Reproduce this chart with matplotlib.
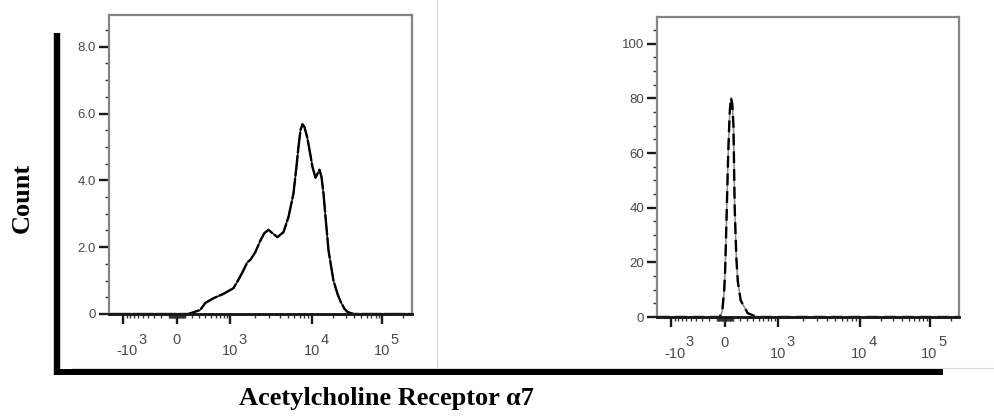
import numpy as np
import matplotlib
matplotlib.use("Agg")
import matplotlib.pyplot as plt
import matplotlib.transforms as mtransforms
from matplotlib.lines import Line2D
from matplotlib.ticker import FixedLocator, FixedFormatter, NullFormatter

plt.rcParams['font.family'] = ['Liberation Sans', 'DejaVu Sans']

# ---------------- data ----------------
left_x = [-1490, 142, 240, 313, 396, 550, 788, 1088, 1253, 1443, 1615, 1757, 2020,
          2330, 2606, 2920, 3265, 3760, 4460, 5130, 5900, 6420, 6800, 7190, 7600,
          8050, 8760, 9530, 10100, 11150, 11900, 12700, 13580, 14500, 15490, 17100,
          20100, 22970, 25400, 28950, 31900, 38900, 262144]
left_y = [0, 0, 0.07, 0.12, 0.33, 0.47, 0.6, 0.77, 1.02, 1.3, 1.55, 1.62, 1.85,
          2.2, 2.42, 2.52, 2.42, 2.3, 2.45, 2.9, 3.6, 4.4, 5.0, 5.5, 5.68,
          5.6, 5.25, 4.75, 4.4, 4.08, 4.2, 4.32, 4.1, 3.6, 2.9, 1.9,
          1.0, 0.6, 0.37, 0.15, 0.06, 0.0, 0]

right_x = [-1490, -62, -31, -6, 6, 25, 43, 62, 78, 94, 109, 125, 146, 166, 206,
           309, 428, 545, 262144]
right_y = [0, 0, 2, 10, 18, 39, 60, 75, 80.3, 78, 70, 40, 22, 13, 6,
           1.4, 0.3, 0, 0]

x_major = [-1000, 0, 1000, 10000, 100000]
x_label_base = ['-10', '0', '10', '10', '10']
x_label_exp = ['3', '', '3', '4', '5']
x_minor = ([-v for v in range(100, 1000, 100)] + [-v for v in range(10, 100, 10)]
           + list(range(10, 100, 10)) + list(range(100, 1000, 100))
           + list(range(2000, 10000, 1000)) + list(range(20000, 100000, 10000))
           + [200000])
x_limits = (-1490, 262144)

left_yticks = [0, 2, 4, 6, 8]
left_ylabels = ['0', '2.0', '4.0', '6.0', '8.0']
left_yminor = list(np.arange(0.5, 9.0, 0.5))
left_ylim = (0, 8.95)

right_yticks = [0, 20, 40, 60, 80, 100]
right_ylabels = ['0', '20', '40', '60', '80', '100']
right_yminor = list(range(5, 110, 5))
right_ylim = (0, 110)

y_title = 'Count'
x_title = 'Acetylcholine Receptor α7'

# ---------------- biexponential-like scale ----------------
A = 400.0
S = np.arcsinh(1000.0 / A)
D1 = 81.7 / 53.3
D2 = 70.0 / 53.3


def fwd(x):
    x = np.asarray(x, dtype=float)
    ax_ = np.abs(x)
    s = np.sign(x)
    with np.errstate(all='ignore'):
        inner = np.arcsinh(ax_ / A) / S
        mid = 1 + np.log10(ax_ / 1e3) * D1
        hi = 1 + D1 + np.log10(ax_ / 1e4) * D2
        u = np.where(ax_ <= 1e3, inner, np.where(ax_ <= 1e4, mid, hi))
    return s * u


def inv(u):
    u = np.asarray(u, dtype=float)
    au = np.abs(u)
    s = np.sign(u)
    with np.errstate(all='ignore'):
        inner = A * np.sinh(au * S)
        mid = 1e3 * 10 ** ((au - 1) / D1)
        hi = 1e4 * 10 ** ((au - 1 - D1) / D2)
        x = np.where(au <= 1, inner, np.where(au <= 1 + D1, mid, hi))
    return s * x


W, H = 994, 417
fig = plt.figure(figsize=(W / 100, H / 100), dpi=100)
LABEL_COLOR = '#4a4a4a'
XLAB_SIZE = 10.5


def make_axes(rect, xs, ys, yt, ylab, ymin, ylim, dash, under_color):
    ax = fig.add_axes(rect)
    ax.set_xscale('function', functions=(fwd, inv))
    ax.plot(xs, ys, color=under_color, lw=1.1, zorder=2)
    ax.plot(xs, ys, color='black', lw=1.7, dashes=dash, zorder=2.1)
    ax.set_xlim(*x_limits)
    ax.set_ylim(*ylim)
    ax.xaxis.set_major_locator(FixedLocator(x_major))
    ax.xaxis.set_major_formatter(NullFormatter())
    ax.xaxis.set_minor_locator(FixedLocator(x_minor))
    ax.yaxis.set_major_locator(FixedLocator(yt))
    ax.yaxis.set_major_formatter(FixedFormatter(ylab))
    ax.yaxis.set_minor_locator(FixedLocator(ymin))
    for sp in ['left', 'top', 'right']:
        ax.spines[sp].set_color('#858585')
        ax.spines[sp].set_linewidth(1.6)
    ax.spines['bottom'].set_color('#1a1a1a')
    ax.spines['bottom'].set_linewidth(2.1)
    for sp in ax.spines.values():
        sp.set_zorder(3)
    ax.tick_params(which='major', direction='out', length=7, width=1.7,
                   color='#1a1a1a', labelsize=9.5, labelcolor=LABEL_COLOR)
    ax.tick_params(which='minor', direction='out', length=3.2, width=1.0,
                   color='#333333')
    ax.tick_params(axis='y', which='major', pad=2.5)
    ax.patch.set_alpha(0)

    # x tick labels with full-size raised exponents (FlowJo style)
    base_tr = mtransforms.blended_transform_factory(ax.transData, ax.transAxes)
    for v, b, e in zip(x_major, x_label_base, x_label_exp):
        if e == '':
            tr = mtransforms.offset_copy(base_tr, fig=fig, x=0, y=-19, units='dots')
            ax.text(v, 0, b, transform=tr, ha='center', va='top', fontsize=XLAB_SIZE,
                    color=LABEL_COLOR)
            continue
        jx = 8 + (6 if b.startswith('-') else 0)
        tr_b = mtransforms.offset_copy(base_tr, fig=fig, x=jx, y=-30, units='dots')
        ax.text(v, 0, b, transform=tr_b, ha='right', va='top', fontsize=XLAB_SIZE,
                color=LABEL_COLOR)
        tr_e = mtransforms.offset_copy(base_tr, fig=fig, x=jx + 0.5, y=-18.5, units='dots')
        ax.text(v, 0, e, transform=tr_e, ha='left', va='top', fontsize=XLAB_SIZE,
                color=LABEL_COLOR)
    return ax


make_axes([109.3 / W, 1 - 314 / H, 302.4 / W, 299 / H], left_x, left_y,
          left_yticks, left_ylabels, left_yminor, left_ylim, (9, 0.8), '#222222')
make_axes([657.3 / W, 1 - 317 / H, 301.7 / W, 300.5 / H], right_x, right_y,
          right_yticks, right_ylabels, right_yminor, right_ylim, (5, 2.5), '#8a8a8a')

# panel border artifacts
fig.add_artist(Line2D([437 / W, 437 / W], [1, 1 - 368 / H], color='#d4d4d4',
                      lw=0.8, transform=fig.transFigure))
fig.add_artist(Line2D([72 / W, 1], [1 - 367.5 / H, 1 - 367.5 / H], color='#d8d8d8',
                      lw=0.8, transform=fig.transFigure))

# thick L-shaped frame
fig.add_artist(Line2D([57 / W, 57 / W], [1 - 33 / H, 1 - 375 / H], color='black',
                      lw=4.6, solid_capstyle='butt', transform=fig.transFigure))
fig.add_artist(Line2D([54 / W, 943 / W], [1 - 372 / H, 1 - 372 / H], color='black',
                      lw=4.3, solid_capstyle='butt', transform=fig.transFigure))

fig.text(22 / W, 1 - 198 / H, y_title, rotation=90, ha='center', va='center',
         fontsize=19, fontweight='bold', family=['Liberation Serif', 'DejaVu Serif'])
fig.text(386 / W, 1 - 405 / H, x_title, ha='center', va='baseline',
         fontsize=19, fontweight='bold', family=['Liberation Serif', 'DejaVu Serif'])

fig.savefig('out.png', dpi=100)
